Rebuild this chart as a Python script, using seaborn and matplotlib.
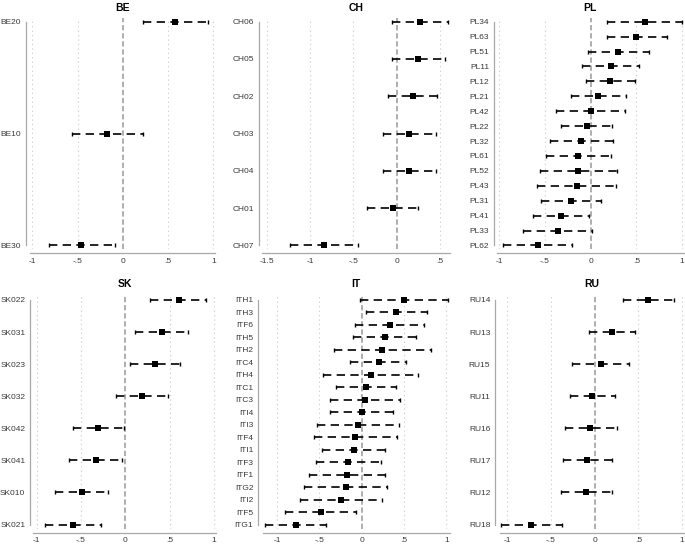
import matplotlib
matplotlib.use("Agg")
import matplotlib.pyplot as plt
import seaborn as sns
import numpy as np
from matplotlib.ticker import FuncFormatter

# Coefficients (point estimate, lower and upper bound) per region
be_labels = ["BE20", "BE10", "BE30"]
be_est = [0.58, -0.17, -0.46]
be_lo = [0.22, -0.56, -0.82]
be_hi = [0.94, 0.22, -0.09]

ch_labels = ["CH06", "CH05", "CH02", "CH03", "CH04", "CH01", "CH07"]
ch_est = [0.27, 0.25, 0.185, 0.14, 0.14, -0.046, -0.84]
ch_lo = [-0.06, -0.05, -0.10, -0.16, -0.155, -0.34, -1.23]
ch_hi = [0.59, 0.56, 0.47, 0.45, 0.45, 0.25, -0.45]

pl_labels = ["PL34", "PL63", "PL51", "PL11", "PL12", "PL21", "PL42", "PL22",
             "PL32", "PL61", "PL52", "PL43", "PL31", "PL41", "PL33", "PL62"]
pl_est = [0.59, 0.50, 0.30, 0.22, 0.21, 0.085, 0.0, -0.045,
          -0.105, -0.135, -0.135, -0.155, -0.22, -0.33, -0.36, -0.58]
pl_lo = [0.175, 0.175, -0.03, -0.095, -0.055, -0.22, -0.38, -0.32,
         -0.45, -0.485, -0.56, -0.59, -0.54, -0.635, -0.74, -0.96]
pl_hi = [1.0, 0.84, 0.64, 0.53, 0.485, 0.39, 0.375, 0.23,
         0.245, 0.22, 0.29, 0.28, 0.11, -0.02, 0.02, -0.20]

sk_labels = ["SK022", "SK031", "SK023", "SK032", "SK042", "SK041", "SK010", "SK021"]
sk_est = [0.60, 0.41, 0.335, 0.19, -0.31, -0.335, -0.49, -0.59]
sk_lo = [0.275, 0.11, 0.05, -0.10, -0.59, -0.635, -0.79, -0.91]
sk_hi = [0.91, 0.71, 0.62, 0.48, -0.02, -0.035, -0.19, -0.27]

it_labels = ["ITH1", "ITH3", "ITF6", "ITH5", "ITH2", "ITC4", "ITH4", "ITC1", "ITC3", "ITI4",
             "ITI3", "ITF4", "ITI1", "ITF3", "ITF1", "ITG2", "ITI2", "ITF5", "ITG1"]
it_est = [0.50, 0.41, 0.33, 0.27, 0.245, 0.20, 0.11, 0.05, 0.035, 0.0,
          -0.04, -0.075, -0.09, -0.16, -0.175, -0.185, -0.24, -0.485, -0.78]
it_lo = [-0.015, 0.05, -0.08, -0.10, -0.33, -0.14, -0.455, -0.30, -0.38, -0.37,
         -0.525, -0.57, -0.465, -0.535, -0.625, -0.68, -0.73, -0.905, -1.14]
it_hi = [1.02, 0.775, 0.74, 0.645, 0.82, 0.53, 0.67, 0.40, 0.455, 0.375,
         0.445, 0.42, 0.28, 0.23, 0.275, 0.305, 0.245, -0.07, -0.42]

ru_labels = ["RU14", "RU13", "RU15", "RU11", "RU16", "RU17", "RU12", "RU18"]
ru_est = [0.615, 0.20, 0.07, -0.03, -0.05, -0.085, -0.095, -0.725]
ru_lo = [0.32, -0.06, -0.26, -0.28, -0.345, -0.365, -0.39, -1.07]
ru_hi = [0.91, 0.465, 0.395, 0.23, 0.26, 0.20, 0.20, -0.38]

ticks_std = [-1, -0.5, 0, 0.5, 1]
ticks_ch = [-1.5, -1, -0.5, 0, 0.5]

W, H = 685, 546

# panel layout in pixels: (title, labels, est, lo, hi, ticks, xlim, x0px, x1px, row, spine_gap_px)
panels = [
    ("BE", be_labels, be_est, be_lo, be_hi, ticks_std, (-1.03, 1.02), 29.6, 215.1, 0, 3.6),
    ("CH", ch_labels, ch_est, ch_lo, ch_hi, ticks_ch, (-1.55, 0.62), 262.3, 450.5, 0, 3.3),
    ("PL", pl_labels, pl_est, pl_lo, pl_hi, ticks_std, (-1.03, 1.02), 496.6, 683.8, 0, 2.6),
    ("SK", sk_labels, sk_est, sk_lo, sk_hi, ticks_std, (-1.04, 1.02), 33.1, 215.8, 1, 3.0),
    ("IT", it_labels, it_est, it_lo, it_hi, ticks_std, (-1.17, 1.04), 262.8, 449.6, 1, 4.8),
    ("RU", ru_labels, ru_est, ru_lo, ru_hi, ticks_std, (-1.08, 1.02), 500.4, 683.8, 1, 5.4),
]
# rows: (axes top px, axes bottom px, first category px, last category px, x-axis line px, title pad pt)
rows = [(18, 249.5, 21.7, 245.5, 253, 5.0), (296, 528.5, 300, 524.5, 532.5, 6.5)]

sns.set_theme(style="white")
plt.rcParams['font.family'] = ['Liberation Sans', 'DejaVu Sans']

SPINE = "#a8a8a8"
TXT = "#3a3a3a"


def stata_fmt(v, pos):
    s = f"{v:g}"
    s = s.replace("0.", ".")
    return s


fig = plt.figure(figsize=(W / 100, H / 100), dpi=100)

for title, labels, est, lo, hi, ticks, xlim, x0, x1, r, gap in panels:
    top, bot, c0, c1, axline, tpad = rows[r]
    ax = fig.add_axes([x0 / W, 1 - bot / H, (x1 - x0) / W, (bot - top) / H])
    n = len(labels)
    pos = np.arange(n)
    ppu = (c1 - c0) / (n - 1)
    ax.set_ylim((n - 1) + (bot - c1) / ppu, -(c0 - top) / ppu)
    ax.set_xlim(*xlim)

    # dotted grid and dashed zero line
    for t in ticks:
        if t != 0:
            ax.axvline(t, color="#c8c8c8", lw=0.8, ls=(0, (1, 3)), zorder=0)
    ax.axvline(0, color="#999999", lw=1.1, ls=(0, (3.5, 1.8)), zorder=1)

    est = np.array(est)
    lo = np.array(lo)
    hi = np.array(hi)
    _, caps, bars = ax.errorbar(est, pos, xerr=[est - lo, hi - est], fmt="none",
                                ecolor="black", elinewidth=1.2, capsize=1.6,
                                capthick=1.0, zorder=2)
    for b in bars:
        b.set_linestyle((0, (5, 3.2)))
    sns.scatterplot(x=est, y=pos, ax=ax, marker="s", s=16, color="black",
                    edgecolor="black", linewidth=0, zorder=3)

    ax.set_yticks(pos)
    ax.set_yticklabels(labels)
    ax.set_xticks(ticks)
    ax.xaxis.set_major_formatter(FuncFormatter(stata_fmt))
    ax.tick_params(axis="both", labelsize=6, colors=TXT, length=2.2,
                   width=0.7, pad=1.2)
    ax.tick_params(axis="both", color=SPINE)

    for s in ["top", "right"]:
        ax.spines[s].set_visible(False)
    ax.spines["left"].set_color(SPINE)
    ax.spines["bottom"].set_color(SPINE)
    ax.spines["left"].set_linewidth(0.9)
    ax.spines["bottom"].set_linewidth(0.9)
    ax.spines["left"].set_position(("outward", gap * 0.72))
    ax.spines["bottom"].set_position(("outward", (axline - bot) * 0.72))
    ax.spines["left"].set_bounds(0, n - 1)
    ax.set_xlabel("")
    ax.set_ylabel("")
    ax.set_title(title, fontsize=7.5, fontweight="bold", color="black", pad=tpad)

fig.savefig("out.png", dpi=100, facecolor="white")
